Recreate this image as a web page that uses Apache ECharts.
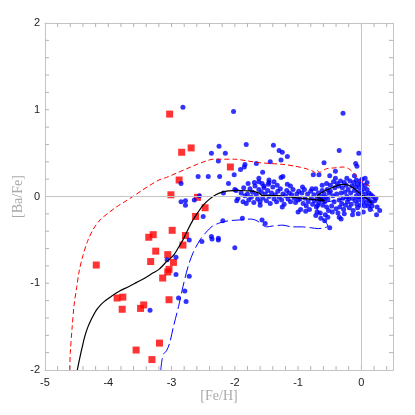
<!DOCTYPE html>
<html>
<head>
<meta charset="utf-8">
<script src="https://cdn.jsdelivr.net/npm/echarts@6/dist/echarts.min.js"></script>
<style>
html,body{margin:0;padding:0;background:#fff;}
#chart{width:415px;height:415px;}
</style>
</head>
<body>
<div id="chart"></div>
<script>
// ---- Data ----
var xTickLabels = [-5, -4, -3, -2, -1, 0];
var yTickLabels = [-2, -1, 0, 1, 2];
var tickStep = 0.2;

// Red squares (halo stars)
var redSquares = [
  [-3.03,0.95],[-2.84,0.51],[-2.69,0.56],[-2.88,0.19],[-3.01,0.02],[-2.59,-0.01],
  [-2.07,0.34],[-2.47,-0.13],[-2.62,-0.23],[-2.99,-0.39],[-3.29,-0.44],[-3.36,-0.47],
  [-2.78,-0.45],[-2.82,-0.56],[-3.25,-0.63],[-3.06,-0.67],[-3.33,-0.75],[-2.97,-0.76],
  [-3.04,-0.84],[-3.06,-0.87],[-3.14,-0.94],[-4.19,-0.79],[-3.86,-1.17],[-3.77,-1.16],
  [-3.78,-1.30],[-3.44,-1.25],[-3.49,-1.29],[-3.04,-1.19],[-3.19,-1.69],[-3.56,-1.77],
  [-3.31,-1.88]
];

// Blue dots
var blueDots = [
  // isolated / sparse
  [-2.82,1.03],[-2.02,0.98],[-0.29,0.96],[-1.82,0.60],[-2.25,0.58],[-1.39,0.59],
  [-2.37,0.50],[-2.15,0.50],[-1.30,0.53],[-1.25,0.51],[-1.17,0.46],[-0.35,0.53],
  [-0.04,0.50],[-2.26,0.41],[-1.66,0.38],[-1.44,0.40],[-1.27,0.42],[-1.84,0.37],
  [-1.85,0.34],[-1.91,0.31],[-0.59,0.39],[-0.09,0.38],[-0.07,0.35],[-1.56,0.28],
  [-2.01,0.25],[-2.58,0.23],[-2.42,0.23],[-2.24,0.23],[-1.24,0.23],[-1.27,0.22],
  [-0.76,0.25],[-0.67,0.25],[-0.50,0.24],[-0.41,0.29],[-2.10,0.15],[-2.85,0.15],
  [-1.79,0.15],[-1.62,0.17],[-1.46,0.19],[-1.46,0.16],[-1.38,0.17],[-1.17,0.14],
  [-1.62,0.21],[-1.54,0.12],[-2.18,0.04],[-2.00,0.08],[-2.56,0.01],[-2.64,-0.04],
  [-2.85,-0.06],[-2.78,-0.05],[-2.78,-0.10],[-1.97,-0.05],[-2.50,-0.23],[-2.19,-0.28],
  [-1.88,-0.25],[-1.57,-0.27],[-1.52,-0.31],[-2.72,-0.50],[-2.52,-0.52],[-2.37,-0.46],
  [-2.36,-0.49],[-2.26,-0.48],[-2.26,-0.50],[-2.00,-0.59],[-2.93,-0.70],[-3.07,-0.73],
  [-2.93,-0.90],[-2.72,-0.92],[-2.79,-1.09],[-2.89,-1.17],[-2.77,-1.21],[-3.34,-1.31],
  [-0.70,-0.18],[-0.50,-0.36],[-0.32,-0.26],[0.25,-0.12],[0.29,-0.16],[0.24,-0.21],
  [0.23,-0.02],[-1.00,-0.18],
  // moderate cluster -2.0 .. -1.0
  [-1.98,0.07],[-1.95,-0.02],[-1.90,0.04],[-1.87,-0.06],[-1.84,0.01],[-1.82,-0.08],
  [-1.80,0.03],[-1.78,-0.04],[-1.76,0.09],[-1.74,-0.01],[-1.72,0.05],[-1.70,-0.07],
  [-1.68,0.12],[-1.66,0.02],[-1.64,-0.03],[-1.62,0.08],[-1.60,-0.06],[-1.58,0.05],
  [-1.56,-0.02],[-1.54,0.10],[-1.52,0.03],[-1.50,-0.05],[-1.48,0.07],[-1.46,0.00],
  [-1.44,-0.08],[-1.42,0.04],[-1.40,0.11],[-1.38,-0.03],[-1.36,0.02],[-1.34,-0.06],
  [-1.32,0.06],[-1.30,-0.01],[-1.28,0.09],[-1.26,-0.04],[-1.24,0.03],[-1.22,-0.09],
  [-1.20,0.01],[-1.18,0.07],[-1.16,-0.03],[-1.14,0.04],[-1.12,-0.06],[-1.10,0.02],
  [-1.08,0.08],[-1.06,-0.02],[-1.04,-0.07],[-1.02,0.03],[-1.00,-0.04],[-1.57,0.15],
  [-1.47,0.14],[-1.33,0.13],[-1.69,0.16],[-1.86,0.10],[-1.12,0.12],[-1.25,-0.12],
  [-1.60,-0.10],
  // dense cluster -1.0 .. -0.5
  [-0.99,0.06],[-0.97,-0.03],[-0.96,-0.15],[-0.94,0.04],[-0.92,-0.08],[-0.90,0.08],
  [-0.89,-0.02],[-0.87,-0.11],[-0.85,0.03],[-0.84,-0.06],[-0.82,-0.15],[-0.80,0.06],
  [-0.79,-0.02],[-0.77,-0.09],[-0.75,0.02],[-0.74,-0.05],[-0.72,0.09],[-0.71,-0.12],
  [-0.70,-0.02],[-0.68,0.04],[-0.67,-0.07],[-0.65,-0.19],[-0.64,0.00],[-0.63,-0.04],
  [-0.62,0.07],[-0.61,-0.10],[-0.60,-0.02],[-0.59,0.03],[-0.58,-0.06],[-0.57,-0.21],
  [-0.56,-0.01],[-0.55,-0.12],[-0.54,0.08],[-0.53,-0.03],[-0.52,-0.16],[-0.51,0.04],
  [-0.93,0.11],[-0.78,0.09],[-0.62,0.13],[-0.55,0.15],[-0.88,-0.17],[-0.72,-0.22],
  [-0.64,-0.25],[-0.58,-0.28],[-0.69,-0.10],[-0.66,-0.03],[-0.53,-0.24],
  // very dense cluster -0.5 .. 0.25
  [-0.49,0.06],[-0.47,-0.11],[-0.46,-0.18],[-0.49,0.13],
  [-0.45,0.01],[-0.43,-0.06],[-0.44,0.17],
  [-0.42,0.10],[-0.40,-0.14],[-0.41,0.21],
  [-0.39,0.03],[-0.37,-0.19],[-0.38,0.15],
  [-0.36,0.12],[-0.35,-0.04],[-0.34,-0.12],[-0.35,-0.24],
  [-0.33,0.18],[-0.32,0.04],[-0.31,-0.08],
  [-0.30,0.10],[-0.28,-0.15],[-0.29,-0.02],
  [-0.27,0.16],[-0.26,0.05],[-0.25,-0.10],[-0.27,-0.20],
  [-0.24,0.13],[-0.23,0.00],[-0.22,-0.06],[-0.23,0.21],
  [-0.21,0.08],[-0.19,-0.13],[-0.20,-0.03],
  [-0.18,0.18],[-0.17,0.04],[-0.16,-0.09],
  [-0.15,0.12],[-0.14,-0.02],[-0.13,-0.16],[-0.14,-0.21],
  [-0.12,0.16],[-0.11,0.07],[-0.10,-0.05],[-0.11,0.24],
  [-0.09,0.11],[-0.08,0.01],[-0.07,-0.09],[-0.08,0.19],
  [-0.06,0.14],[-0.05,0.05],[-0.04,-0.04],[-0.06,-0.13],[-0.05,-0.20],
  [-0.03,0.10],[-0.02,0.00],[-0.01,-0.10],[-0.02,0.18],
  [0.00,0.14],[0.01,0.05],[0.02,-0.06],[0.01,0.20],
  [0.03,0.09],[0.04,-0.01],[0.05,-0.11],[0.03,-0.18],
  [0.06,0.13],[0.07,0.03],[0.08,-0.07],[0.06,0.21],
  [0.09,0.08],[0.10,-0.02],[0.11,-0.11],[0.09,0.16],
  [0.12,0.04],[0.13,-0.05],[0.14,-0.15],
  [0.15,0.02],[0.16,-0.07],
  [0.18,0.00],[0.17,-0.11],
  [0.21,-0.05]
];

// Model curves
var blackModel = [
  [-4.49,-2.00],[-4.45,-1.86],[-4.41,-1.73],[-4.37,-1.61],[-4.32,-1.50],[-4.25,-1.39],
  [-4.18,-1.30],[-4.08,-1.22],[-3.95,-1.15],[-3.82,-1.09],[-3.68,-1.04],[-3.55,-0.99],
  [-3.42,-0.94],[-3.29,-0.88],[-3.20,-0.84],[-3.13,-0.79],[-3.08,-0.75],[-3.03,-0.72],
  [-2.97,-0.68],[-2.90,-0.60],[-2.82,-0.50],[-2.74,-0.38],[-2.66,-0.27],[-2.58,-0.18],
  [-2.50,-0.10],[-2.40,-0.03],[-2.30,0.02],[-2.20,0.05],[-2.10,0.065],[-1.95,0.07],
  [-1.80,0.065],[-1.70,0.06],[-1.62,0.04],[-1.56,0.01],[-1.45,0.01],[-1.34,0.01],
  [-1.20,0.00],[-1.08,-0.01],[-0.95,-0.02],[-0.82,-0.03],[-0.70,-0.04],[-0.58,-0.05],
  [-0.66,-0.02],[-0.70,0.00],[-0.62,0.05],[-0.50,0.09],[-0.40,0.12],[-0.29,0.14],
  [-0.20,0.13],[-0.13,0.10],[-0.05,0.05],[0.03,0.00],[0.10,-0.03],[0.16,-0.08]
];

var redModel = [
  [-4.61,-2.00],[-4.60,-1.80],[-4.57,-1.50],[-4.54,-1.25],[-4.50,-1.05],[-4.46,-0.86],
  [-4.40,-0.68],[-4.33,-0.52],[-4.24,-0.38],[-4.13,-0.27],[-4.00,-0.19],[-3.87,-0.12],
  [-3.74,-0.06],[-3.61,0.00],[-3.47,0.07],[-3.34,0.13],[-3.20,0.19],[-3.08,0.22],
  [-2.92,0.27],[-2.76,0.32],[-2.60,0.37],[-2.45,0.41],[-2.34,0.43],[-2.20,0.43],
  [-2.00,0.43],[-1.80,0.41],[-1.61,0.39],[-1.42,0.38],[-1.24,0.37],[-1.05,0.35],
  [-0.87,0.32],[-0.76,0.29],[-0.72,0.27],[-0.70,0.30],[-0.66,0.28],[-0.55,0.32],
  [-0.42,0.33],[-0.29,0.34],[-0.20,0.32],[-0.12,0.27],[-0.04,0.20],[0.02,0.17],
  [0.08,0.14],[0.15,0.11]
];

var blueModel = [
  [-3.17,-2.00],[-3.15,-1.88],[-3.12,-1.81],[-3.08,-1.78],[-3.03,-1.69],[-2.97,-1.50],
  [-2.89,-1.27],[-2.82,-1.04],[-2.74,-0.81],[-2.66,-0.65],[-2.55,-0.50],[-2.45,-0.41],
  [-2.35,-0.34],[-2.22,-0.30],[-2.10,-0.28],[-1.92,-0.27],[-1.75,-0.26],[-1.65,-0.28],
  [-1.56,-0.33],[-1.50,-0.35],[-1.40,-0.34],[-1.24,-0.33],[-1.10,-0.35],[-0.95,-0.35],
  [-0.80,-0.36],[-0.68,-0.37],[-0.58,-0.36],[-0.53,-0.34],[-0.58,-0.28],[-0.65,-0.20],
  [-0.70,-0.14],[-0.62,-0.08],[-0.45,-0.05],[-0.30,-0.03],[-0.15,-0.02],[0.00,-0.02],
  [0.08,-0.06],[0.14,-0.12],[0.19,-0.17]
];

// ---- Chart ----
var X_MIN = -5, X_MAX = 0.5, Y_MIN = -2, Y_MAX = 2;
var chart = echarts.init(document.getElementById('chart'), null, {renderer:'canvas'});
var gray = '#c4c4c4';
var tickGray = '#b4b4b4';
var TICK_LEN = 4;

// tick positions (axis decoration) built from the step
var tickMarks = [];
(function(){
  var n = Math.round((X_MAX - X_MIN) / tickStep);
  for (var i = 1; i < n + 1; i++) {
    var v = +(X_MIN + i * tickStep).toFixed(4);
    if (v < X_MAX) tickMarks.push(['x', v]);
  }
  var m = Math.round((Y_MAX - Y_MIN) / tickStep);
  for (var j = 1; j < m; j++) {
    tickMarks.push(['y', +(Y_MIN + j * tickStep).toFixed(4)]);
  }
})();

function intLabel(v){
  var r = Math.round(v);
  if (Math.abs(v - r) < 1e-6 && xTickLabels.indexOf(r) >= 0) return String(r);
  return '';
}
function intLabelY(v){
  var r = Math.round(v);
  if (Math.abs(v - r) < 1e-6 && yTickLabels.indexOf(r) >= 0) return String(r);
  return '';
}
var axisCommon = {
  type:'value',
  axisLine:{show:true, onZero:false, lineStyle:{color:gray, width:1}},
  axisTick:{show:false},
  splitLine:{show:false},
  minorTick:{show:false}
};
var option = {
  animation:false,
  backgroundColor:'#fff',
  grid:{left:45, right:22, top:23, bottom:45, containLabel:false, outerBoundsMode:'none'},
  xAxis:[
    Object.assign({}, axisCommon, {
      min:X_MIN, max:X_MAX, interval:tickStep, position:'bottom',
      axisLabel:{show:true, interval:0, formatter:intLabel, color:'#222', fontSize:11,
                 fontFamily:'Liberation Sans, Arial, sans-serif', margin:7},
      name:'[Fe/H]', nameLocation:'middle', nameGap:19, nameMoveOverlap:false,
      nameTextStyle:{color:'#aaaaaa', fontSize:14, fontFamily:'Liberation Serif, DejaVu Serif, serif'}
    }),
    Object.assign({}, axisCommon, {
      min:X_MIN, max:X_MAX, interval:tickStep, position:'top', axisLabel:{show:false}
    })
  ],
  yAxis:[
    Object.assign({}, axisCommon, {
      min:Y_MIN, max:Y_MAX, interval:tickStep, position:'left',
      axisLabel:{show:true, interval:0, formatter:intLabelY, color:'#222', fontSize:11,
                 fontFamily:'Liberation Sans, Arial, sans-serif', margin:5},
      name:'[Ba/Fe]', nameLocation:'middle', nameGap:20, nameRotate:90, nameMoveOverlap:false,
      nameTextStyle:{color:'#aaaaaa', fontSize:14, fontFamily:'Liberation Serif, DejaVu Serif, serif'}
    }),
    Object.assign({}, axisCommon, {
      min:Y_MIN, max:Y_MAX, interval:tickStep, position:'right', axisLabel:{show:false}
    })
  ],
  series:[
    {
      type:'custom', silent:true, clip:false, z:1,
      data:tickMarks.map(function(t){ return [t[0]==='x'?0:1, t[1]]; }),
      encode:{x:-1, y:-1},
      renderItem:function(params, api){
        var kind = api.value(0), v = api.value(1);
        var a, b, c, d;
        if (kind === 0) {
          a = api.coord([v, Y_MIN]); b = api.coord([v, Y_MAX]);
          c = [a[0], a[1] - TICK_LEN]; d = [b[0], b[1] + TICK_LEN];
        } else {
          a = api.coord([X_MIN, v]); b = api.coord([X_MAX, v]);
          c = [a[0] + TICK_LEN, a[1]]; d = [b[0] - TICK_LEN, b[1]];
        }
        var st = {stroke:tickGray, lineWidth:1};
        return {type:'group', children:[
          {type:'line', shape:{x1:a[0], y1:a[1], x2:c[0], y2:c[1]}, style:st},
          {type:'line', shape:{x1:b[0], y1:b[1], x2:d[0], y2:d[1]}, style:st}
        ]};
      }
    },
    {
      type:'line', data:[], silent:true,
      markLine:{
        silent:true, symbol:['none','none'], label:{show:false},
        lineStyle:{color:gray, type:'solid', width:1},
        data:[{xAxis:0},{yAxis:0}]
      }
    },
    {
      type:'scatter', data:redSquares, symbol:'rect', symbolSize:7,
      itemStyle:{color:'#ff0000'}, silent:true
    },
    {
      type:'scatter', data:blueDots, symbol:'circle', symbolSize:5,
      itemStyle:{color:'#0000ff'}, silent:true
    },
    {
      type:'line', data:redModel, showSymbol:false, smooth:0.3, silent:true,
      lineStyle:{color:'#ff0000', width:1, type:[5,3]}
    },
    {
      type:'line', data:blueModel, showSymbol:false, smooth:0.3, silent:true,
      lineStyle:{color:'#0000ff', width:1, type:[12,4]}
    },
    {
      type:'line', data:blackModel, showSymbol:false, smooth:0.3, silent:true,
      lineStyle:{color:'#000000', width:1.2}
    }
  ]
};
chart.setOption(option);
</script>
</body>
</html>
